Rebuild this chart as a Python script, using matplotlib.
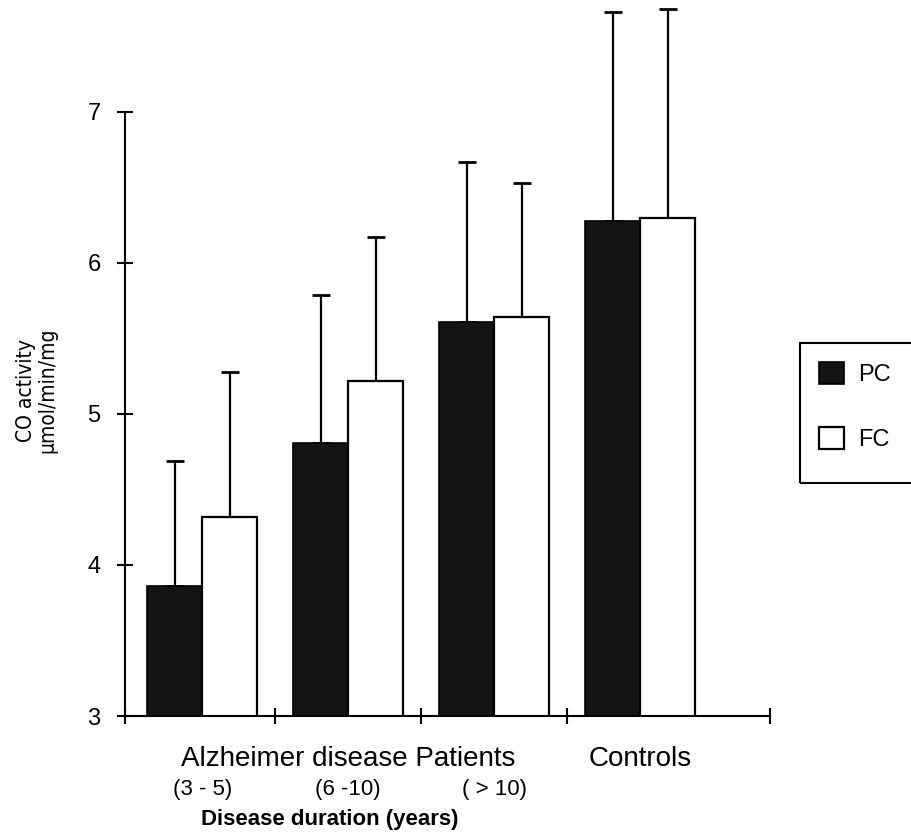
import numpy as np
import matplotlib
matplotlib.use("Agg")
import matplotlib.pyplot as plt
from matplotlib.patches import Rectangle

plt.rcParams['font.family'] = ['Liberation Sans', 'DejaVu Sans']

# data
groups = ['(3 - 5)', '(6 -10)', '( > 10)', 'Controls']
pc_mean = [3.86, 4.81, 5.61, 6.28]
pc_err = [0.83, 0.98, 1.06, 1.38]
fc_mean = [4.32, 5.22, 5.64, 6.30]
fc_err = [0.96, 0.95, 0.89, 1.38]
yticks = [3, 4, 5, 6, 7]

x = np.arange(len(groups))
w = 0.377

fig = plt.figure(figsize=(9.11, 8.38), dpi=100)
ax = fig.add_axes([125/911, 122/838, 645/911, 716/838])

pc_color = '#141414'
ax.bar(x - w/2, pc_mean, w, color=pc_color, edgecolor='black', linewidth=1.2,
       label='PC', zorder=2)
ax.bar(x + w/2, fc_mean, w, color='white', edgecolor='black', linewidth=1.6,
       label='FC', zorder=2)
zeros = np.zeros(len(x))
ax.errorbar(x - w/2, pc_mean, yerr=[zeros, pc_err], fmt='none', ecolor='black',
            elinewidth=1.6, capsize=6.5, capthick=2, zorder=1)
ax.errorbar(x + w/2, fc_mean, yerr=[zeros, fc_err], fmt='none', ecolor='black',
            elinewidth=1.6, capsize=6.5, capthick=2, zorder=1)

ax.set_ylim(3, 7.74)
ax.set_xlim(-0.53, 3.89)
ax.spines['top'].set_visible(False)
ax.spines['right'].set_visible(False)
ax.spines['left'].set_bounds(3, 7)
ax.spines['left'].set_linewidth(1.5)
ax.spines['bottom'].set_linewidth(1.5)

ax.set_yticks(yticks)
ax.set_yticklabels([str(v) for v in yticks], fontsize=17)
ax.set_xticks([-0.53, 0.5, 1.5, 2.5, 3.89])
ax.set_xticklabels([])
ax.tick_params(axis='y', direction='inout', length=11, width=1.5, pad=12)
ax.tick_params(axis='x', direction='inout', length=11, width=1.5)

# category labels under the axis
ax.text(1.0, -0.06, 'Alzheimer disease Patients', transform=ax.get_xaxis_transform(),
        ha='center', va='center', fontsize=20)
ax.text(3.0, -0.06, groups[3], transform=ax.get_xaxis_transform(),
        ha='center', va='center', fontsize=20)
for i in range(3):
    ax.text(x[i], -0.102, groups[i], transform=ax.get_xaxis_transform(),
            ha='center', va='center', fontsize=16)
fig.text(330/911, 1 - 819/838, 'Disease duration (years)', ha='center', va='center',
         fontsize=16, fontweight='bold')

fig.text(37/911, 1 - 390/838, 'CO activity\nµmol/min/mg', rotation=90,
         ha='center', va='center', multialignment='center', fontsize=15,
         family='DejaVu Sans', fontstretch='condensed', linespacing=1.1)

# legend box runs past the right edge like the scanned original
fig.patches.append(Rectangle((800/911, 1 - 483/838), 140/911, 140/838,
                             transform=fig.transFigure, fill=False,
                             edgecolor='black', linewidth=1.5))
leg = fig.legend(loc='upper left', bbox_to_anchor=(800/911, 1 - 343/838),
                 fontsize=17, frameon=False, borderpad=0.8,
                 handlelength=1.06, handleheight=1.06, handletextpad=0.6,
                 labelspacing=1.74, borderaxespad=0)

fig.savefig('out.png', dpi=100)
